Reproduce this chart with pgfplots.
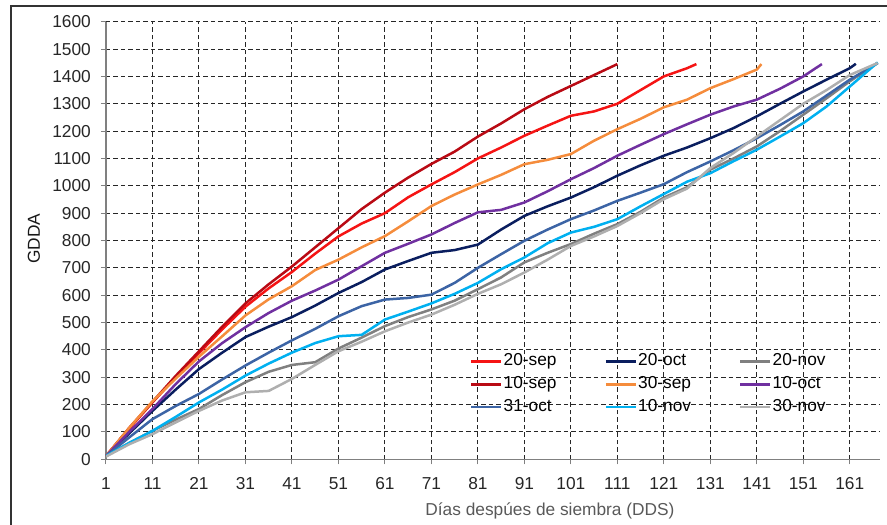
\documentclass[border=0pt]{standalone}
\usepackage{fontspec}
\setmainfont{Liberation Sans}
\usepackage{pgfplots}
\pgfplotsset{compat=1.18}
\definecolor{cSepA}{RGB}{245,20,20}
\definecolor{cSepB}{RGB}{185,10,20}
\definecolor{cSepC}{RGB}{245,140,60}
\definecolor{cOctA}{RGB}{112,48,160}
\definecolor{cOctB}{RGB}{10,30,95}
\definecolor{cOctC}{RGB}{60,100,165}
\definecolor{cNovA}{RGB}{0,176,240}
\definecolor{cNovB}{RGB}{128,128,128}
\definecolor{cNovC}{RGB}{175,175,175}
\newcommand{\lf}{\fontsize{17.3}{20.5}\selectfont}
\begin{document}
\begin{tikzpicture}
\begin{axis}[
  at={(0pt,0pt)}, anchor=south west,
  scale only axis, width=774pt, height=437.6pt,
  xmin=1, xmax=167.5, ymin=0, ymax=1600,
  xtick={1,11,...,161}, ytick={0,100,...,1600},
  axis x line*=bottom, axis y line*=left,
  axis line style={black!50, line width=1.5pt},
  tick align=outside, major tick length=5pt,
  tick style={black!50, line width=1pt},
  grid=major,
  major grid style={black!85, line width=1pt, dash pattern=on 4.5pt off 3pt},
  /pgf/number format/assume math mode=true,
  /pgf/number format/1000 sep={},
  ticklabel style={font=\lf, text=black!85},
  yticklabel style={anchor=east, inner sep=0pt, xshift=-10pt},
  xticklabel style={anchor=base, inner sep=0pt, yshift=-25.5pt},
  xlabel={Días despúes de siembra (DDS)},
  xlabel style={font=\lf, text=black!65, at={(axis description cs:0.5736,-0.1273)}, anchor=base},
  ylabel={GDDA},
  ylabel style={font=\lf, text=black!90, at={(axis description cs:-0.0853,0.5046)}, anchor=base},
  legend columns=3,
  legend style={at={(axis description cs:0.4703,0.245)}, anchor=north west, draw=none, fill=none,
    inner sep=0pt, font=\lf, row sep=4.4pt,
    nodes={inner sep=1pt, text height=12.4pt, text depth=4pt, anchor=west}},
  legend image code/.code={\draw[#1, line width=2.5pt] (0pt,0pt) -- (30pt,0pt);},
  every axis plot/.append style={line width=2.5pt, line join=round},
]
% 20-sep
\addplot[cSepA] coordinates {(1,12)(6,112)(11,208)(16,300)(21,388)(26,475)(31,558)(36,625)(41,685)(46,752)(51,815)(56,862)(61,900)(66,958)(71,1005)(76,1050)(81,1100)(86,1140)(91,1183)(96,1220)(101,1256)(106,1272)(111,1300)(116,1350)(121,1400)(126,1430)(128,1445)};
\addlegendentry{\makebox[100pt][l]{20-sep}}
% 20-oct
\addplot[cOctB] coordinates {(1,12)(6,95)(11,177)(16,255)(21,330)(26,390)(31,447)(36,485)(41,520)(46,562)(51,608)(56,648)(61,694)(66,725)(71,755)(76,765)(81,785)(86,840)(91,890)(96,925)(101,957)(106,995)(111,1037)(116,1075)(121,1110)(126,1140)(131,1174)(136,1211)(141,1254)(146,1300)(151,1345)(156,1388)(161,1430)(162.3,1446)};
\addlegendentry{\makebox[100pt][l]{20-oct}}
% 20-nov
\addplot[cNovB] coordinates {(1,12)(6,60)(11,104)(16,145)(21,184)(26,235)(31,282)(36,320)(41,345)(46,355)(51,405)(56,445)(61,487)(66,520)(71,548)(76,580)(81,622)(86,665)(91,720)(96,755)(101,787)(106,825)(111,860)(116,905)(121,957)(126,995)(131,1059)(136,1100)(141,1144)(146,1200)(151,1260)(156,1320)(161,1382)(167,1449)};
\addlegendentry{20-nov}
% 10-sep
\addplot[cSepB] coordinates {(1,12)(6,115)(11,210)(16,305)(21,395)(26,485)(31,570)(36,640)(41,705)(46,775)(51,845)(56,915)(61,975)(66,1030)(71,1080)(76,1125)(81,1180)(86,1228)(91,1280)(96,1325)(101,1365)(106,1405)(111,1445)};
\addlegendentry{\makebox[100pt][l]{10-sep}}
% 30-sep
\addplot[cSepC] coordinates {(1,12)(6,115)(11,212)(16,295)(21,375)(26,450)(31,526)(36,585)(41,633)(46,692)(51,730)(56,775)(61,816)(66,870)(71,926)(76,968)(81,1005)(86,1040)(91,1079)(96,1095)(101,1116)(106,1165)(111,1207)(116,1245)(121,1287)(126,1315)(131,1357)(136,1390)(141,1425)(142,1445)};
\addlegendentry{\makebox[100pt][l]{30-sep}}
% 10-oct
\addplot[cOctA] coordinates {(1,12)(6,100)(11,184)(16,275)(21,358)(26,425)(31,483)(36,535)(41,580)(46,617)(51,657)(56,706)(61,755)(66,788)(71,822)(76,864)(81,903)(86,912)(91,939)(96,980)(101,1024)(106,1065)(111,1110)(116,1150)(121,1189)(126,1225)(131,1260)(136,1290)(141,1315)(146,1355)(151,1400)(155,1445)};
\addlegendentry{10-oct}
% 31-oct
\addplot[cOctC] coordinates {(1,12)(6,80)(11,147)(16,195)(21,239)(26,292)(31,343)(36,390)(41,435)(46,477)(51,523)(56,560)(61,584)(66,590)(71,602)(76,645)(81,700)(86,750)(91,799)(96,840)(101,878)(106,910)(111,945)(116,975)(121,1006)(126,1050)(131,1089)(136,1130)(141,1174)(146,1222)(151,1272)(156,1330)(161,1388)(167,1449)};
\addlegendentry{\makebox[100pt][l]{31-oct}}
% 10-nov
\addplot[cNovA] coordinates {(1,12)(6,60)(11,104)(16,155)(21,208)(26,255)(31,306)(36,350)(41,390)(46,425)(51,450)(56,455)(61,511)(66,540)(71,570)(76,605)(81,645)(86,695)(91,738)(96,790)(101,829)(106,850)(111,878)(116,925)(121,970)(126,1015)(131,1046)(136,1090)(141,1132)(146,1180)(151,1229)(156,1290)(161,1363)(167,1451)};
\addlegendentry{\makebox[100pt][l]{10-nov}}
% 30-nov
\addplot[cNovC] coordinates {(1,10)(6,55)(11,92)(16,135)(21,177)(26,215)(31,245)(36,250)(41,294)(46,345)(51,395)(56,430)(61,468)(66,500)(71,529)(76,565)(81,605)(86,640)(91,683)(96,730)(101,780)(106,815)(111,853)(116,900)(121,951)(126,990)(131,1065)(136,1120)(141,1180)(146,1240)(151,1300)(156,1350)(161,1405)(167,1449)};
\addlegendentry{30-nov}
\end{axis}
\draw[line width=2.5pt, black!80] (-95pt,-120pt) rectangle (820pt,453.3pt);
\pgfresetboundingbox
\useasboundingbox (-106pt,-65.7pt) rectangle (781pt,459.3pt);
\end{tikzpicture}
\end{document}
